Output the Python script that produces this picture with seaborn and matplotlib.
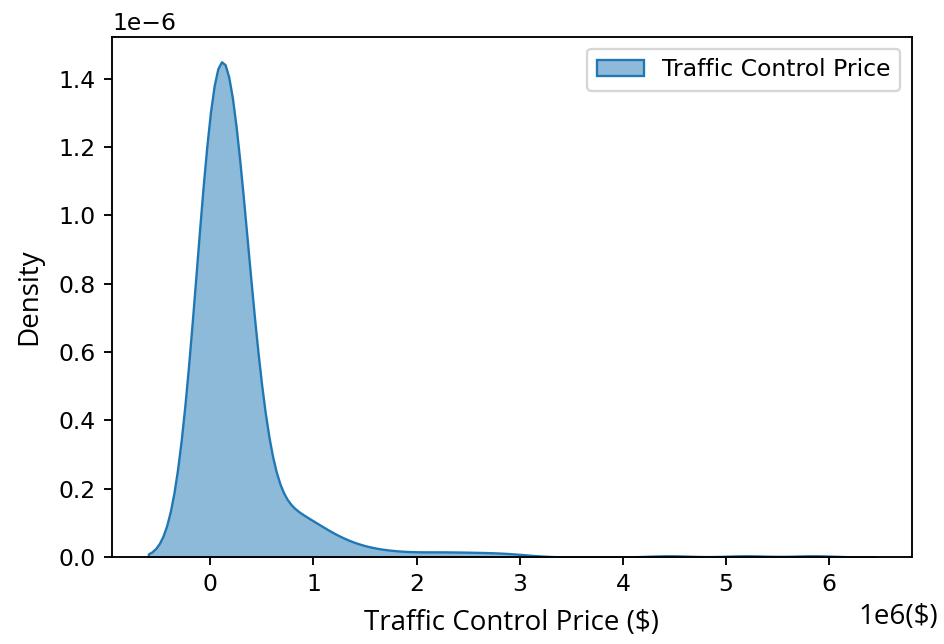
import numpy as np
import pandas as pd
import seaborn as sns
import matplotlib.pyplot as plt

# Traffic control contract prices (USD) and number of contracts at each price
price_usd = [
    0, 50000, 100000, 150000, 200000, 250000, 300000, 350000, 400000,
    500000, 600000, 700000, 800000, 900000, 1000000, 1100000, 1200000,
    1300000, 1400000, 1500000, 1600000, 1700000, 1800000, 1900000,
    2100000, 2300000, 2500000, 2700000, 2900000, 3050000,
    4450000, 5200000, 5850000,
]
n_contracts = [
    820, 80, 85, 175, 235, 225, 190, 100, 20,
    10, 28, 37, 35, 29, 23, 18, 14,
    11, 8, 6, 5, 4, 4, 4,
    7, 7, 6, 6, 5, 2,
    4, 4, 4,
]

series_label = "Traffic Control Price"
x_label = "Traffic Control Price ($)"
y_label = "Density"
x_unit_text = "1e6($)"

kernel_bw_usd = 200000  # Gaussian kernel standard deviation

prices = pd.DataFrame({
    "price": np.repeat(np.array(price_usd, dtype=float), n_contracts)
})
bw_factor = kernel_bw_usd / prices["price"].std(ddof=1)

fig = plt.figure(figsize=(944 / 169, 644 / 169), dpi=169)
ax = fig.add_axes([112 / 944, 87 / 644, 800 / 944, 520 / 644])

sns.kdeplot(
    data=prices, x="price", bw_method=bw_factor,
    fill=True, alpha=0.5, linewidth=1.0, color="#1f77b4",
    label=series_label, ax=ax,
)

label_font = ["Open Sans", "DejaVu Sans"]
ax.set_xlabel(x_label, family=label_font, fontsize=11.8, labelpad=5.5)
ax.set_ylabel(y_label, family=label_font, fontsize=11.8, labelpad=6.5)
ax.xaxis.get_offset_text().set_visible(False)
fig.text(938 / 944, 1 - 617 / 644, x_unit_text, family=label_font,
         fontsize=11.8, ha="right", va="center")

ax.legend(loc="upper right")

fig.savefig("out.png", dpi=169)
